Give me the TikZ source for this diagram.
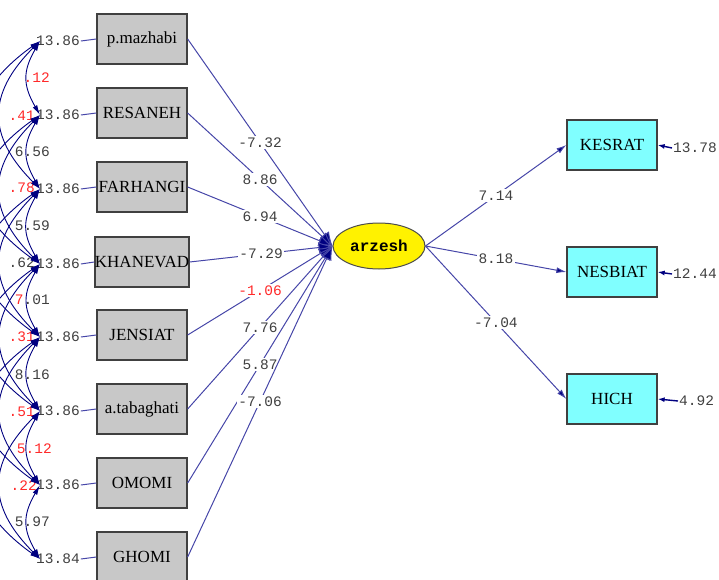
\documentclass[tikz,border=0pt]{standalone}
\usepackage{fontspec}
\setmainfont{Liberation Serif}
\newfontfamily\numfont{Liberation Mono}
\usetikzlibrary{arrows.meta,shapes.geometric}
\definecolor{pathblue}{HTML}{4646A8}
\definecolor{navyc}{HTML}{000080}
\definecolor{numgray}{HTML}{404040}
\definecolor{numred}{HTML}{FF2A2A}
\definecolor{boxgray}{HTML}{C8C8C8}
\definecolor{cyanfill}{HTML}{80FFFF}
\begin{document}
\begin{tikzpicture}[x=1pt,y=-1pt,
  obs/.style={draw=black!75, line width=1.3pt, fill=boxgray, minimum width=90pt, minimum height=50pt, inner sep=0pt, font=\fontsize{17}{19}\selectfont},
  ind/.style={obs, fill=cyanfill},
  lat/.style={ellipse, draw=black!70, line width=1pt, fill=yellow, minimum width=92pt, minimum height=46pt, inner sep=0pt, font=\numfont\bfseries\fontsize{16}{17}\selectfont},
  num/.style={font=\numfont\fontsize{14.5}{15}\selectfont, text=numgray, inner sep=1pt},
  rnum/.style={num, text=numred},
  lbl/.style={num, fill=white, inner sep=1.5pt},
  rlbl/.style={lbl, text=numred},
  path/.style={draw=pathblue, line width=1pt, arrows={-{Latex[length=14pt,width=11pt,fill=navyc]}}},
  outpath/.style={draw=pathblue, line width=1pt, -{Latex[length=10pt,width=6pt,fill=navyc]}},
  errl/.style={draw=pathblue, line width=1pt},
  erra/.style={draw=navyc, line width=1.4pt, -{Latex[length=7pt,width=5pt]}},
  cov/.style={draw=navyc, line width=0.9pt, {Latex[length=10pt,width=5pt]}-{Latex[length=10pt,width=5pt]}}
]
\useasboundingbox (0,0) rectangle (719,580);
\clip (0,0) rectangle (719,580);

% observed (formative) indicators
\node[obs] (x1) at (142,39)  {p.mazhabi};
\node[obs] (x2) at (142,113) {RESANEH};
\node[obs] (x3) at (142,187) {FARHANGI};
\node[obs] (x4) at (142,262) {KHANEVAD};
\node[obs] (x5) at (142,335) {JENSIAT};
\node[obs] (x6) at (142,409) {a.tabaghati};
\node[obs] (x7) at (142,483) {OMOMI};
\node[obs] (x8) at (142,557) {GHOMI};

% latent
\node[lat] (arz) at (379,246) {arzesh};

% reflective indicators
\node[ind] (y1) at (612,145) {KESRAT};
\node[ind] (y2) at (612,272) {NESBIAT};
\node[ind] (y3) at (612,399) {HICH};

% paths into latent
\draw[path] (x1.east) -- node[lbl]{-7.32} (arz.west);
\draw[path] (x2.east) -- node[lbl]{8.86} (arz.west);
\draw[path] (x3.east) -- node[lbl]{6.94} (arz.west);
\draw[path] (x4.east) -- node[lbl]{-7.29} (arz.west);
\draw[path] (x5.east) -- node[rlbl]{-1.06} (arz.west);
\draw[path] (x6.east) -- node[lbl]{7.76} (arz.west);
\draw[path] (x7.east) -- node[lbl]{5.87} (arz.west);
\draw[path] (x8.east) -- node[lbl]{-7.06} (arz.west);

% paths out of latent
\draw[outpath] (arz.east) -- node[lbl]{7.14} (y1.west);
\draw[outpath] (arz.east) -- node[lbl]{8.18} (y2.west);
\draw[outpath] (arz.east) -- node[lbl]{-7.04} (y3.west);

% right error terms
\node[num, anchor=west] (d1) at (672,148) {13.78};
\node[num, anchor=west] (d2) at (672,274) {12.44};
\node[num, anchor=west] (d3) at (678,401) {4.92};
\draw[erra] (d1.west) -- (y1.east);
\draw[erra] (d2.west) -- (y2.east);
\draw[erra] (d3.west) -- (y3.east);

% left error terms
\node[num, anchor=west] (e1) at (35,41)  {13.86};
\node[num, anchor=west] (e2) at (35,115) {13.86};
\node[num, anchor=west] (e3) at (35,189) {13.86};
\node[num, anchor=west] (e4) at (35,264) {13.86};
\node[num, anchor=west] (e5) at (35,337) {13.86};
\node[num, anchor=west] (e6) at (35,411) {13.86};
\node[num, anchor=west] (e7) at (35,485) {13.86};
\node[num, anchor=west] (e8) at (35,559) {13.84};
\foreach \i in {1,...,8} { \draw[errl] (e\i.east) -- (x\i.west); }

% covariance values
\node[rnum, anchor=east] (c12) at (51,78)  {.12};
\node[rnum, anchor=east] (c2)  at (36,116) {.41};
\node[num,  anchor=east] (c23) at (51,152) {6.56};
\node[rnum, anchor=east] (c3)  at (36,188) {.78};
\node[num,  anchor=east] (c34) at (51,226) {5.59};
\node[num,  anchor=east] (c4)  at (36,263) {.62};
\node[num,  anchor=east] (c45) at (51,300) {\textcolor{numred}{7}.01};
\node[rnum, anchor=east] (c5)  at (36,337) {.31};
\node[num,  anchor=east] (c56) at (51,375) {8.16};
\node[rnum, anchor=east] (c6)  at (36,412) {.51};
\node[rnum, anchor=east] (c67) at (53,449) {5.12};
\node[rnum, anchor=east] (c7)  at (38,486) {.22};
\node[num,  anchor=east] (c78) at (51,522) {5.97};

% covariance arcs between error terms
\foreach \i/\y in {1/41,2/115,3/189,4/264,5/337,6/411,7/485,8/559} { \coordinate (k\i) at (40,\y); }
\foreach \i in {1,...,7} {
  \pgfmathtruncatemacro{\j}{\i+1}
  \draw[cov] (k\i) to[out=240,in=120,looseness=1.2] (k\j);
}
\foreach \i in {1,...,6} {
  \pgfmathtruncatemacro{\j}{\i+2}
  \draw[cov] (k\i) to[out=225,in=135,looseness=1.3] (k\j);
}
\foreach \i in {1,...,5} {
  \pgfmathtruncatemacro{\j}{\i+3}
  \draw[cov] (k\i) to[out=215,in=145,looseness=1.3] (k\j);
}
\end{tikzpicture}
\end{document}
